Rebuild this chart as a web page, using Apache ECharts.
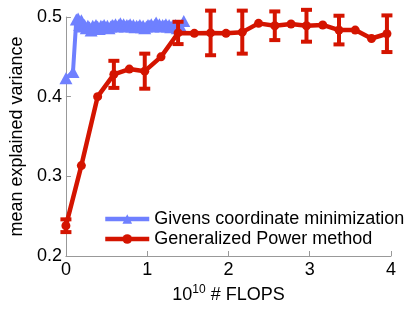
<!DOCTYPE html>
<html><head><meta charset="utf-8">
<script src="https://cdn.jsdelivr.net/npm/echarts@6/dist/echarts.min.js"></script>
<style>html,body{margin:0;padding:0;background:#fff}#c{width:415px;height:310px}</style>
</head><body><div id="c"></div>
<script>
var givensX = [0,0.087,0.128,0.15,0.17,0.19,0.21,0.23,0.25,0.27,0.29,0.31,0.33,0.35,0.37,0.39,0.41,0.43,0.45,0.47,0.49,0.51,0.53,0.55,0.57,0.59,0.61,0.63,0.65,0.67,0.69,0.71,0.73,0.75,0.77,0.79,0.81,0.83,0.85,0.87,0.89,0.91,0.93,0.95,0.97,0.99,1.01,1.03,1.05,1.07,1.09,1.11,1.13,1.15,1.17,1.19,1.21,1.23,1.25,1.27,1.29,1.31,1.33,1.35,1.37,1.39,1.41,1.45];
var givensY = [0.423,0.431,0.497,0.498,0.490,0.496,0.488,0.490,0.486,0.489,0.487,0.483,0.489,0.487,0.490,0.488,0.485,0.489,0.488,0.490,0.487,0.489,0.486,0.488,0.490,0.489,0.491,0.488,0.490,0.492,0.489,0.491,0.488,0.490,0.489,0.491,0.488,0.490,0.487,0.489,0.488,0.490,0.487,0.489,0.486,0.488,0.490,0.489,0.491,0.488,0.490,0.493,0.489,0.491,0.488,0.490,0.489,0.491,0.488,0.490,0.487,0.489,0.488,0.490,0.486,0.489,0.488,0.495];
var powerX = [0,0.19,0.39,0.59,0.78,0.97,1.17,1.38,1.58,1.78,1.97,2.17,2.37,2.57,2.77,2.96,3.16,3.36,3.56,3.76,3.95];
var powerY = [0.238,0.3135,0.400,0.428,0.4346,0.432,0.450,0.480,0.4795,0.480,0.4795,0.481,0.492,0.489,0.4912,0.489,0.490,0.4836,0.4836,0.473,0.479];
var powerErr = [0.008,0,0,0.017,0,0.022,0,0.014,0,0.028,0,0.027,0,0.018,0,0.020,0,0.018,0,0,0.023];
var xTicks = [0,1,2,3,4];
var yTicks = [0.2,0.3,0.4,0.5];
var seriesNames = ['Givens coordinate minimization','Generalized Power method'];

var BLUE = '#6f80ff', RED = '#d41400';
var FONT = 'Liberation Sans, Arial, sans-serif';
var chart = echarts.init(document.getElementById('c'), null, {renderer:'canvas'});

var givensData = givensX.map(function(x,i){return [x, givensY[i]];});
var powerData = powerX.map(function(x,i){return [x, powerY[i]];});
var errData = [];
powerX.forEach(function(x,i){ if(powerErr[i] > 0) errData.push([x, powerY[i]-powerErr[i], powerY[i]+powerErr[i]]); });

chart.setOption({
  animation:false,
  textStyle:{fontFamily:FONT},
  grid:{left:56, right:24, top:17, bottom:54},
  legend:{
    orient:'vertical', left:98, top:205, itemGap:2, itemWidth:44, itemHeight:12,
    textStyle:{fontSize:18, color:'#000', fontFamily:FONT},
    lineStyle:{width:4.5},
    data:seriesNames
  },
  xAxis:{
    type:'value', min:xTicks[0], max:xTicks[xTicks.length-1], interval:1,
    name:'{b|10}{s|10}{b| # FLOPS}', nameLocation:'middle', nameGap:28,
    nameTextStyle:{rich:{b:{fontSize:18,color:'#000',fontFamily:FONT},s:{fontSize:12,color:'#000',fontFamily:FONT,verticalAlign:'top',padding:[0,0,10,0]}}},
    axisLine:{lineStyle:{color:'#999',width:1}},
    axisTick:{inside:true,length:5,lineStyle:{color:'#999'}},
    splitLine:{show:false},
    axisLabel:{fontSize:18,color:'#000',margin:5,fontFamily:FONT}
  },
  yAxis:{
    type:'value', min:yTicks[0], max:yTicks[yTicks.length-1], interval:0.1,
    name:'mean explained variance', nameLocation:'middle', nameGap:38,
    nameTextStyle:{fontSize:18,color:'#000',fontFamily:FONT},
    axisLine:{show:true,lineStyle:{color:'#999',width:1}},
    axisTick:{show:true,inside:true,length:5,lineStyle:{color:'#999'}},
    splitLine:{show:false},
    axisLabel:{fontSize:18,color:'#000',margin:4,fontFamily:FONT,formatter:function(v){return v.toFixed(1);}}
  },
  series:[
    {name:seriesNames[0], type:'line', data:givensData, symbol:'triangle', symbolSize:[13,12],
     clip:false, z:2, color:BLUE, lineStyle:{width:4,color:BLUE}, itemStyle:{color:BLUE}},
    {name:seriesNames[1], type:'line', data:powerData, symbol:'circle', symbolSize:9,
     clip:false, z:4, color:RED, lineStyle:{width:4.5,color:RED}, itemStyle:{color:RED}},
    {name:'err', type:'custom', data:errData, z:5, clip:false,
     renderItem:function(params, api){
       var lo = api.coord([api.value(0), api.value(1)]);
       var hi = api.coord([api.value(0), api.value(2)]);
       var w = 5.5;
       var st = {stroke:RED, lineWidth:4};
       return {type:'group', children:[
         {type:'line', shape:{x1:lo[0],y1:lo[1],x2:hi[0],y2:hi[1]}, style:st},
         {type:'line', shape:{x1:lo[0]-w,y1:lo[1],x2:lo[0]+w,y2:lo[1]}, style:st},
         {type:'line', shape:{x1:hi[0]-w,y1:hi[1],x2:hi[0]+w,y2:hi[1]}, style:st}
       ]};
     },
     encode:{x:0,y:[1,2]}}
  ]
});
</script></body></html>
